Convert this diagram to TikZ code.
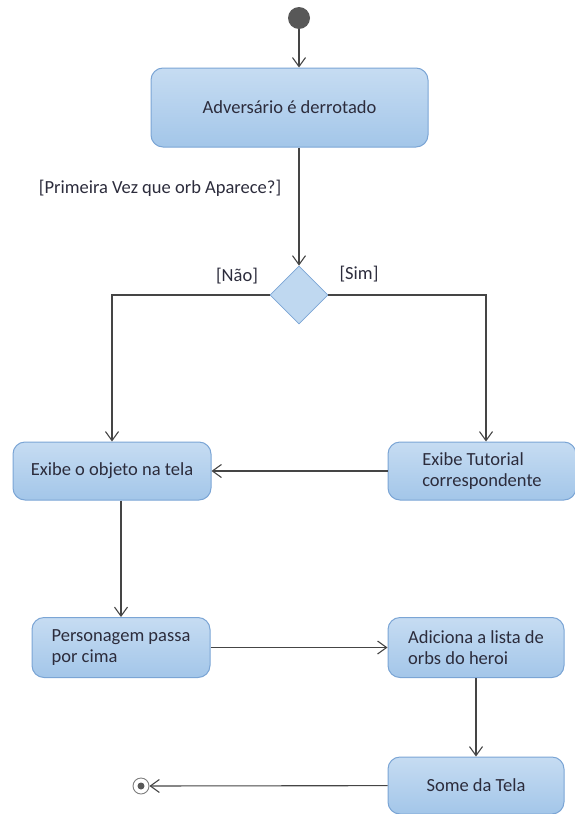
\documentclass[tikz,border=0pt]{standalone}
\usepackage{fontspec}
\setmainfont{Carlito}
\usetikzlibrary{arrows.meta,shapes.geometric}
\definecolor{boxtop}{HTML}{C6DCF2}
\definecolor{boxbot}{HTML}{A3C6E9}
\definecolor{boxline}{HTML}{7BA5D5}
\definecolor{ink}{HTML}{2C2C3C}
\definecolor{wire}{HTML}{454545}
\tikzset{
  action/.style={draw=boxline, line width=1pt, rounded corners=12pt,
    top color=boxtop, bottom color=boxbot, text=ink, inner sep=0pt,
    align=left, font=\fontsize{18.5}{21.5}\selectfont},
  decision/.style={diamond, draw=boxline, line width=0.8pt, fill=boxtop!80!boxbot,
    minimum width=58pt, minimum height=58pt, inner sep=0pt},
  guard/.style={text=ink, inner sep=0pt, font=\fontsize{18.5}{21}\selectfont},
  flow/.style={draw=wire, line width=1.1pt,
    -{Straight Barb[length=9pt,width=13pt,line width=1.1pt]}}
}
\begin{document}
\begin{tikzpicture}[x=1pt,y=-1pt]
\useasboundingbox (0,0) rectangle (574,814);

% initial and final states
\node (start) [circle, fill=wire!90, minimum size=22pt, inner sep=0pt] at (299,18) {};
\node (stop) [circle, draw=wire!70, line width=0.9pt, minimum size=16pt, inner sep=0pt] at (141,786) {};
\node (stopdot) [circle, fill=wire!90, minimum size=7pt, inner sep=0pt] at (141,786) {};

% actions
\node (box1) [action, minimum width=277pt, minimum height=79pt] at (289.5,107.5) {Adversário é derrotado};
\node (box2) [action, minimum width=198pt, minimum height=58pt] at (112,471) {Exibe o objeto na tela};
\node (box3) [action, minimum width=188pt, minimum height=58pt] at (482,471)
  {Exibe Tutorial\\correspondente};
\node (box4) [action, minimum width=178pt, minimum height=60pt] at (121,647.5)
  {Personagem passa\\por cima};
\node (box5) [action, minimum width=176pt, minimum height=60pt] at (476,647.5)
  {Adiciona a lista de\\orbs do heroi};
\node (box6) [action, minimum width=176pt, minimum height=57pt] at (476,785.5) {Some da Tela};

% decision
\node (dec) [decision] at (299,295) {};

% guards
\node (gq) [guard] at (160,188) {[Primeira Vez que orb Aparece?]};
\node (gno) [guard] at (237,276) {[Não]};
\node (gyes) [guard] at (359,274) {[Sim]};

% flows
\draw[flow] (start) -- (start |- box1.north);
\draw[flow] (dec |- box1.south) -- (dec);
\draw[flow] (dec.west) -| (box2.north);
\draw[flow] (dec.east) -| ([xshift=4pt]box3.north);
\draw[flow] (box3) -- (box2);
\draw[flow] (box4.north |- box2.south) -- (box4.north);
\draw[flow] (box4) -- (box5);
\draw[flow] (box5) -- (box6);
\draw[flow] (box6) -- (stop);
\end{tikzpicture}
\end{document}
